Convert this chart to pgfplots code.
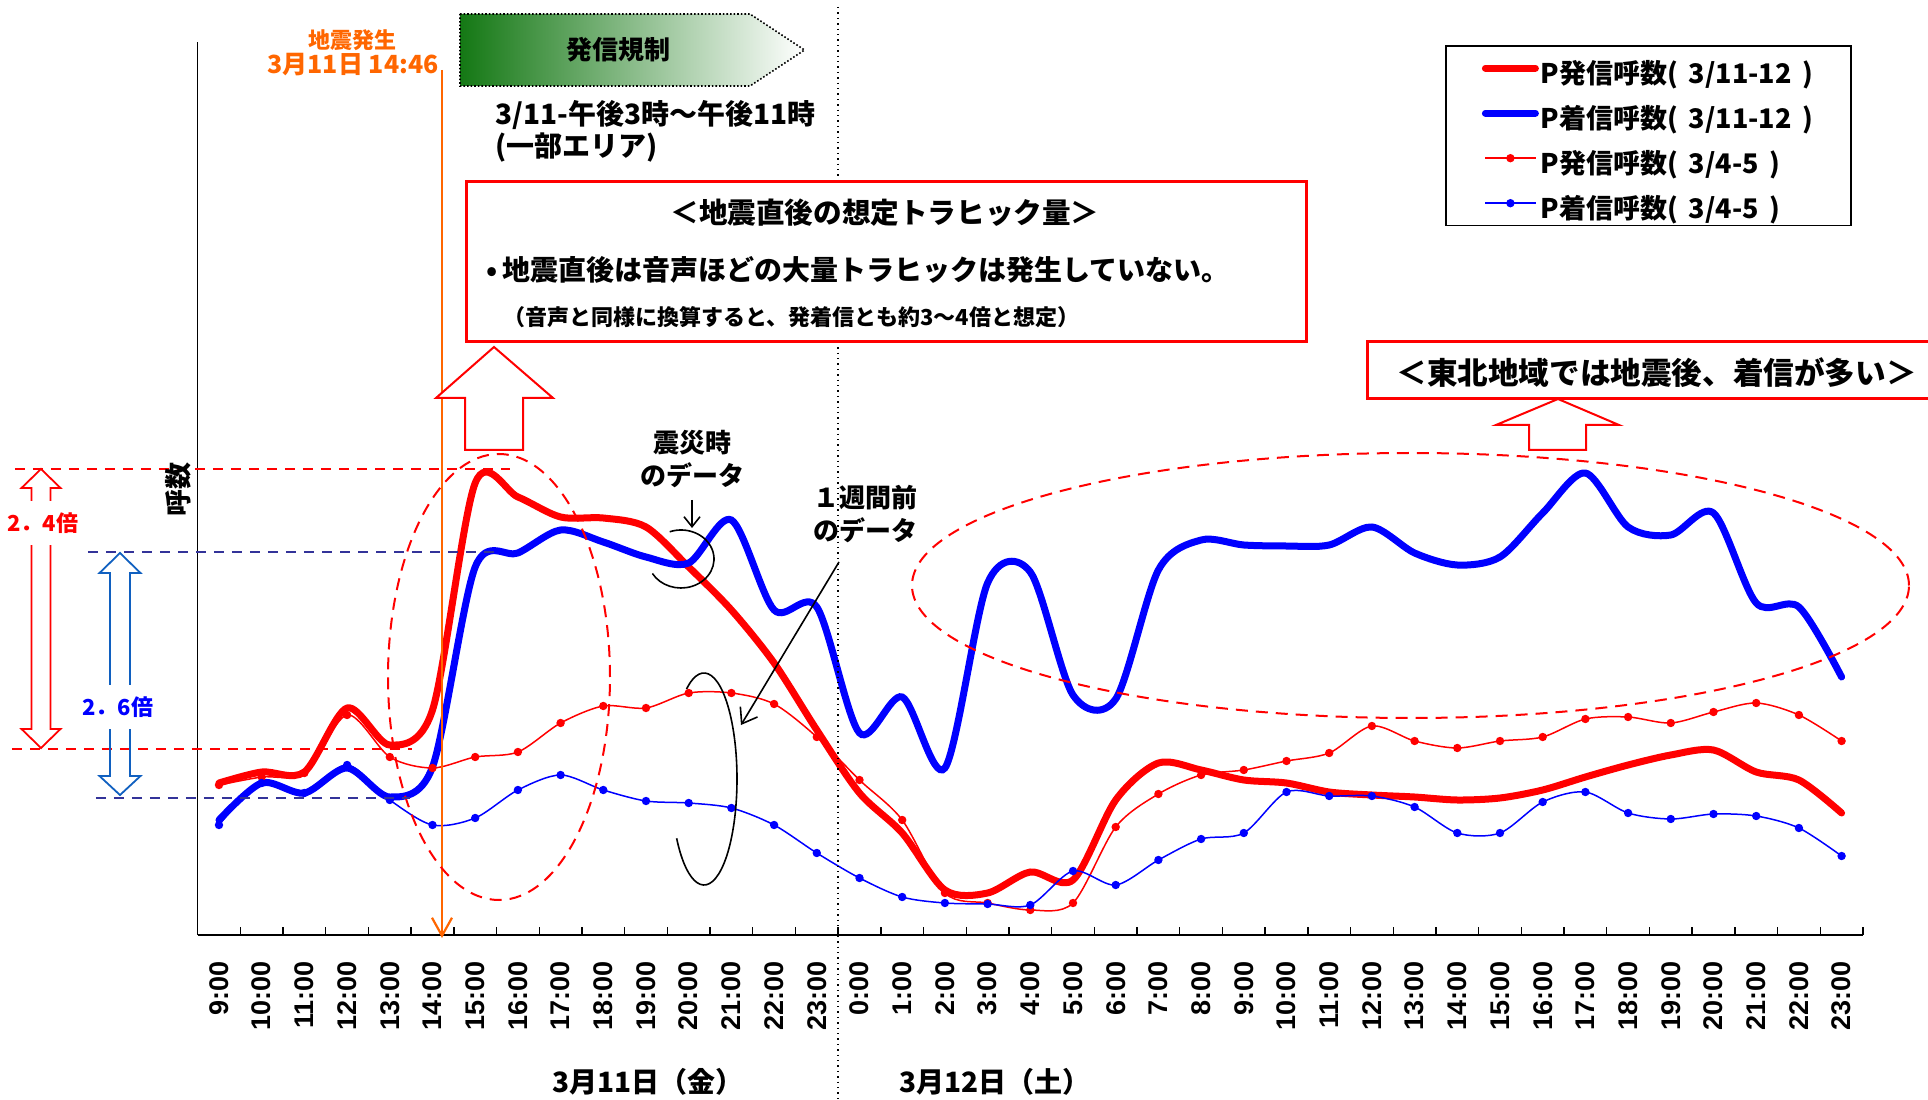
\documentclass[border=0pt]{standalone}
\usepackage{fontspec}
\usepackage{pgfplots}
\usepackage{pgfplotstable}
\pgfplotsset{compat=1.18}
\usetikzlibrary{arrows.meta}

\setmainfont{Noto Sans CJK JP}
\newfontfamily\tickfont{Liberation Sans}

\definecolor{quakeorange}{RGB}{255,102,0}
\definecolor{guidenavy}{RGB}{51,51,153}
\definecolor{ratioblue}{RGB}{16,96,192}
\definecolor{regreen}{RGB}{20,120,20}

\newcommand{\jpsize}[1]{\fontsize{#1pt}{#1pt}\selectfont\bfseries}

% hourly packet call counts (relative units)
% p311/t311: originating / terminating calls on 3/11-12
% p34/t34:   originating / terminating calls one week earlier (3/4-5)
\pgfplotstableread{
i  p311 t311 p34 t34
0  152  115  150 110
1  163  152  158 152
2  163  142  162 142
3  227  167  220 170
4  190  138  178 135
5  225  168  167 110
6  452  368  178 117
7  438  382  183 145
8  418  405  212 160
9  417  393  229 145
10 408  378  227 134
11 368  372  242 132
12 325  415  242 127
13 272  325  231 110
14 205  328  198  82
15 142  202  155  57
16 102  238  115  38
17  45  167   42  32
18  42  352   32  31
19  63  363   25  30
20  55  240   32  64
21 135  236  108  50
22 172  365  141  75
23 165  395  160  96
24 155  390  165 102
25 152  389  174 143
26 143  390  182 139
27 140  408  209 139
28 138  382  194 128
29 135  370  187 102
30 137  378  194 102
31 145  422  198 133
32 158  462  216 143
33 170  408  218 122
34 180  400  212 116
35 185  422  223 121
36 163  332  232 119
37 155  328  220 107
38 122  258  194  79
}\calls

\begin{document}
\begin{tikzpicture}
\begin{axis}[
  x=21.35pt, y=0.5pt,
  xmin=-0.5, xmax=38.5, ymin=0, ymax=893,
  axis lines=left,
  axis line style={-},
  x axis line style={line width=1.2pt},
  y axis line style={line width=0.8pt},
  clip=false,
  ytick=\empty,
  xtick={0,...,38},
  xticklabels={9:00,10:00,11:00,12:00,13:00,14:00,15:00,16:00,17:00,18:00,19:00,20:00,21:00,22:00,23:00,0:00,1:00,2:00,3:00,4:00,5:00,6:00,7:00,8:00,9:00,10:00,11:00,12:00,13:00,14:00,15:00,16:00,17:00,18:00,19:00,20:00,21:00,22:00,23:00},
  major tick length=0pt,
  minor xtick={-0.5,0.5,...,38.5},
  minor tick length=4pt,
  tick align=inside,
  minor tick style={line width=0.7pt,black},
  xticklabel style={rotate=90, anchor=east, inner sep=0pt,
    font=\tickfont\bfseries\fontsize{13.5pt}{13.5pt}\selectfont},
  xticklabel shift=13pt,
  legend style={at={(axis cs:28.712,890)}, anchor=north west, draw=black,
    line width=0.9pt, fill=white, inner xsep=18pt, inner ysep=2pt,
    row sep=4.2pt, nodes={inner sep=1pt, text height=15.8pt, text depth=0.5pt},
    font=\jpsize{13.5}},
  legend cell align=left,
  legend image code/.code={\draw[mark repeat=2,mark phase=2,#1]
    plot coordinates {(0pt,0pt) (12.5pt,0pt) (25pt,0pt)};},
]
\addplot[red, line width=3.5pt, line cap=round, smooth, no marks]
  table[x=i, y=p311] {\calls};
\addlegendentry{P発信呼数(\,~3/11-12~\,)}
\addplot[blue, line width=3.5pt, line cap=round, smooth, no marks]
  table[x=i, y=t311] {\calls};
\addlegendentry{P着信呼数(\,~3/11-12~\,)}
\addplot[red, line width=0.75pt, smooth, mark=*, mark size=1.7pt]
  table[x=i, y=p34] {\calls};
\addlegendentry{P発信呼数(\,~3/4-5~\,)}
\addplot[blue, line width=0.75pt, smooth, mark=*, mark size=1.7pt]
  table[x=i, y=t34] {\calls};
\addlegendentry{P着信呼数(\,~3/4-5~\,)}

% page frame, in the same units as the annotation layer below
\coordinate (pgNW) at (axis cs:-5.1288,935);
\coordinate (pgSE) at (axis cs:40.0234,-164);
\end{axis}

% annotation layer: 1 unit = 0.5pt, origin at top left, y pointing down
\begin{scope}[shift={(pgNW)}, x=0.5pt, y=-0.5pt, every node/.style={inner sep=0pt}]
  % boundary between the two days
  \draw[black, line width=0.7pt, dotted] (838,7) -- (838,1099);

  % moment of the earthquake
  \draw[quakeorange, line width=1.1pt, -{Straight Barb[length=9pt,width=10pt]}] (442,70) -- (442,938);
  \node[quakeorange, font=\jpsize{11}] at (353,40) {地震発生};
  \node[quakeorange, font=\jpsize{12.5}] at (353,65) {3月11日 14:46};

  % call restriction period
  \shadedraw[left color=regreen, right color=white, draw=black, line width=0.8pt, densely dotted]
    (460,14) -- (750,14) -- (804.5,50) -- (750,86) -- (460,86) -- cycle;
  \node[font=\jpsize{13}] at (618,50) {発信規制};
  \node[anchor=west, font=\jpsize{14}] at (495,115) {3/11-午後3時～午後11時};
  \node[anchor=west, font=\jpsize{14}] at (495,148) {(一部エリア)};

  % expected traffic right after the earthquake
  \draw[red, line width=1.5pt, fill=white] (466,182) rectangle (1306,342);
  \node[font=\jpsize{14.3}] at (885,213) {＜地震直後の想定トラヒック量＞};
  \node[anchor=west, font=\jpsize{14}] at (486,270) {•\,地震直後は音声ほどの大量トラヒックは発生していない。};
  \node[anchor=west, font=\jpsize{11}] at (503,317) {（音声と同様に換算すると、発着信とも約3～4倍と想定）};
  \draw[red, line width=1pt, fill=white]
    (465,450) -- (465,398) -- (436,398) -- (494,347) -- (553,398) -- (523,398) -- (523,450) -- cycle;
  \draw[red, line width=1pt, dash pattern=on 6pt off 4pt] (499,677) ellipse [x radius=55.5pt, y radius=111.5pt];

  % ratio guides
  \draw[red, line width=1pt, dash pattern=on 5pt off 4pt] (15,469) -- (510,469);
  \draw[red, line width=1pt, dash pattern=on 5pt off 4pt] (12,749) -- (412,749);
  \draw[guidenavy, line width=1pt, dash pattern=on 5pt off 4pt] (88,552) -- (494,552);
  \draw[guidenavy, line width=1pt, dash pattern=on 5pt off 4pt] (96,798) -- (410,798);
  \draw[red, line width=0.9pt]
    (41,469) -- (60.5,488) -- (50.5,488) -- (50.5,729) -- (60.5,729) -- (41,748)
    -- (21.5,729) -- (31.5,729) -- (31.5,488) -- (21.5,488) -- cycle;
  \node[red, fill=white, inner ysep=6pt, font=\jpsize{11}] at (43,523) {2．4倍};
  \draw[ratioblue, line width=0.9pt]
    (120,553) -- (140.5,573) -- (130,573) -- (130,776) -- (140.5,776) -- (120,795)
    -- (99.5,776) -- (110,776) -- (110,573) -- (99.5,573) -- cycle;
  \node[blue, fill=white, inner ysep=6pt, font=\jpsize{11}] at (118,707) {2．6倍};

  % axis title
  \node[rotate=90, font=\jpsize{13.5}] at (178,489) {呼数};

  % which curves are which
  \node[font=\jpsize{13}] at (692,443) {震災時};
  \node[font=\jpsize{13}] at (692,475) {のデータ};
  \draw[line width=0.8pt, -{Straight Barb[length=5pt,width=8pt]}] (692,500) -- (692,528);
  \draw[line width=0.8pt] (681,559) ++(110:16.5pt and 14.5pt)
    arc[start angle=110, end angle=-150, x radius=16.5pt, y radius=14.5pt];
  \node[font=\jpsize{13}] at (865,498) {１週間前};
  \node[font=\jpsize{13}] at (865,530) {のデータ};
  \draw[line width=0.8pt, -{Straight Barb[length=7pt,width=10pt]}] (839,562) -- (741,725);
  \draw[line width=0.8pt] (704,779) ++(122:16.5pt and 53pt)
    arc[start angle=122, end angle=-146, x radius=16.5pt, y radius=53pt];

  % Tohoku region remark
  \draw[red, line width=1pt, dash pattern=on 6pt off 4pt] (1410.5,585.5) ellipse [x radius=249.25pt, y radius=66.25pt];
  \draw[red, line width=1.5pt, fill=white] (1367,342) rectangle (1945,399);
  \node[anchor=west, font=\jpsize{15.3}] at (1396,373) {＜東北地域では地震後、着信が多い＞};
  \draw[red, line width=1pt, fill=white]
    (1529,450) -- (1529,425) -- (1496,425) -- (1558,399) -- (1619,425) -- (1586,425) -- (1586,450) -- cycle;

  % day labels
  \node[font=\jpsize{14}] at (648,1082) {3月11日（金）};
  \node[font=\jpsize{14}] at (995,1082) {3月12日（土）};
\end{scope}

\pgfresetboundingbox
\path[use as bounding box] (pgNW) rectangle (pgSE);
\end{tikzpicture}
\end{document}
